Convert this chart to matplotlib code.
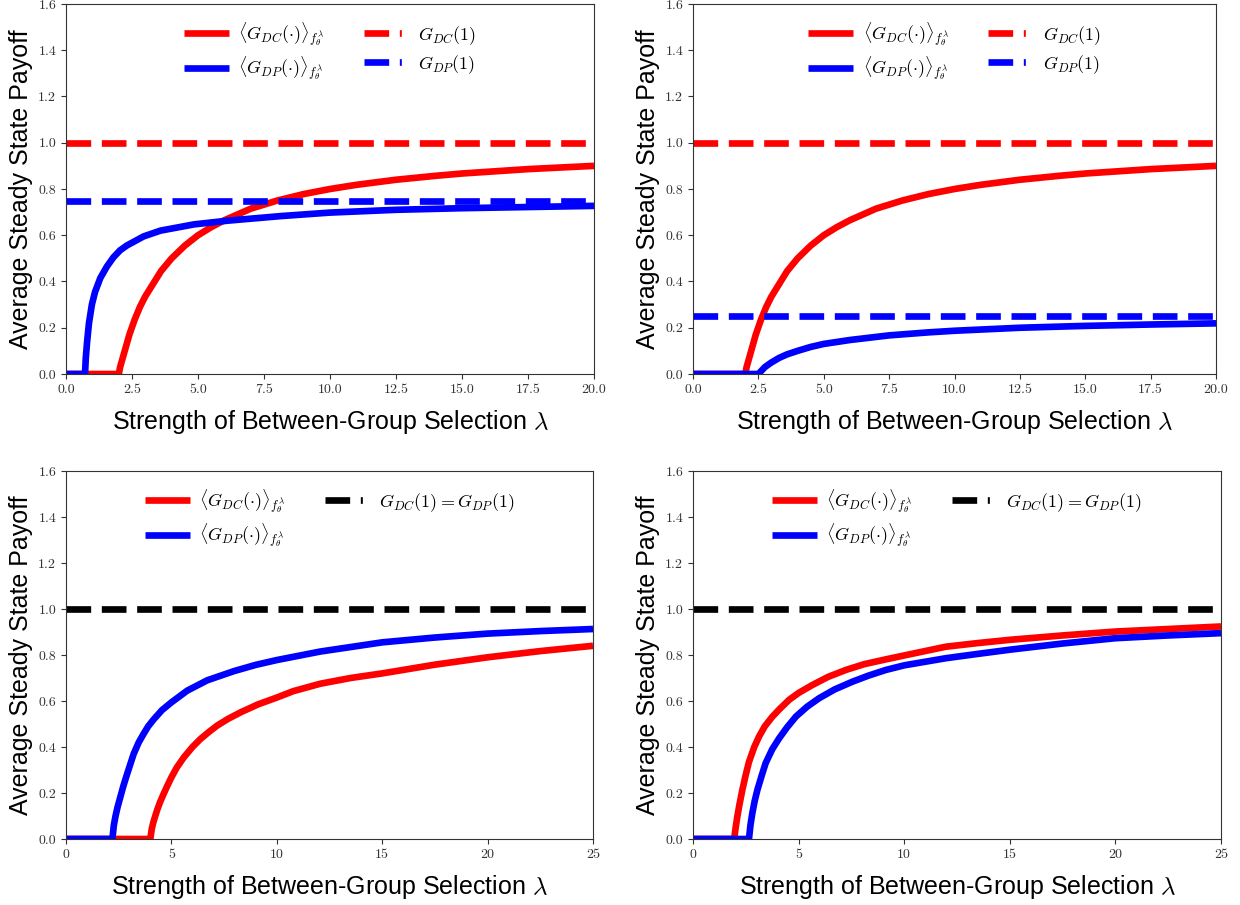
import matplotlib
matplotlib.use('Agg')
import matplotlib.pyplot as plt
from matplotlib.lines import Line2D

plt.rcParams['mathtext.fontset'] = 'cm'
plt.rcParams['font.family'] = ['Liberation Sans', 'DejaVu Sans']

# --- panel (a): top left, lambda in [0, 20] ---
lam_a_dc = [0, 2.0, 2.05, 2.1, 2.2, 2.3, 2.4, 2.6, 2.8, 3.0, 3.3, 3.6, 4.0, 4.5, 5.0, 5.5,
            6.0, 7.0, 8.0, 9.0, 10.0, 11.0, 12.5, 14.0, 15.0, 17.5, 20.0]
g_a_dc = [0, 0, 0.03, 0.05, 0.09, 0.13, 0.17, 0.235, 0.29, 0.335, 0.39, 0.445, 0.50, 0.555,
          0.60, 0.635, 0.665, 0.715, 0.75, 0.778, 0.80, 0.818, 0.84, 0.857, 0.867, 0.886, 0.90]
lam_a_dp = [0, 0.72, 0.75, 0.80, 0.87, 0.98, 1.10, 1.30, 1.55, 1.80, 2.05, 2.31, 2.94, 3.58,
            4.85, 6.12, 8.15, 10.0, 12.5, 15.0, 17.5, 20.0]
g_a_dp = [0, 0, 0.07, 0.14, 0.22, 0.30, 0.355, 0.415, 0.465, 0.505, 0.535, 0.556, 0.595, 0.62,
          0.647, 0.663, 0.683, 0.698, 0.71, 0.717, 0.722, 0.727]
a_dc1 = 1.0
a_dp1 = 0.75

# --- panel (b): top right, lambda in [0, 20] ---
lam_b_dc = lam_a_dc
g_b_dc = g_a_dc
lam_b_dp = [0, 2.5, 2.6, 2.75, 3.0, 3.3, 3.6, 4.0, 4.5, 5.0, 6.0, 7.5, 9.0, 10.0, 12.5, 15.0,
            17.5, 20.0]
g_b_dp = [0, 0, 0.012, 0.03, 0.05, 0.07, 0.085, 0.10, 0.117, 0.13, 0.147, 0.167, 0.18, 0.187,
          0.20, 0.208, 0.214, 0.219]
b_dc1 = 1.0
b_dp1 = 0.25

# --- panel (c): bottom left, lambda in [0, 25] ---
lam_c_dc = [0, 4.0, 4.07, 4.15, 4.32, 4.46, 4.63, 4.8, 5.0, 5.25, 5.59, 6.0, 6.38, 6.8, 7.17,
            7.7, 8.29, 9.1, 10.0, 10.79, 12.06, 13.5, 15.0, 17.5, 20.0, 22.5, 25.0]
g_c_dc = [0, 0, 0.045, 0.075, 0.125, 0.16, 0.196, 0.23, 0.268, 0.31, 0.355, 0.40, 0.435, 0.467,
          0.493, 0.523, 0.551, 0.585, 0.615, 0.643, 0.675, 0.70, 0.72, 0.758, 0.79, 0.817, 0.84]
lam_c_dp = [0, 2.2, 2.27, 2.35, 2.45, 2.57, 2.72, 2.89, 3.05, 3.21, 3.45, 3.68, 3.9, 4.16,
            4.55, 5.0, 5.75, 6.7, 7.97, 9.0, 10.0, 12.06, 15.0, 17.5, 20.0, 22.5, 25.0]
g_c_dp = [0, 0, 0.06, 0.10, 0.14, 0.18, 0.23, 0.28, 0.325, 0.37, 0.42, 0.457, 0.49, 0.52,
          0.56, 0.594, 0.645, 0.69, 0.73, 0.757, 0.778, 0.815, 0.855, 0.876, 0.893, 0.904, 0.913]
c_g1 = 1.0

# --- panel (d): bottom right, lambda in [0, 25] ---
lam_d_dc = [0, 1.95, 2.02, 2.1, 2.2, 2.34, 2.5, 2.65, 2.9, 3.13, 3.4, 3.76, 4.1, 4.55, 5.0,
            5.66, 6.4, 7.24, 8.1, 9.13, 10.0, 11.97, 13.5, 15.0, 17.5, 20.0, 22.5, 25.0]
g_d_dc = [0, 0, 0.05, 0.098, 0.15, 0.215, 0.28, 0.335, 0.40, 0.446, 0.49, 0.532, 0.565, 0.605,
          0.635, 0.67, 0.705, 0.735, 0.76, 0.781, 0.798, 0.836, 0.852, 0.866, 0.885, 0.902,
          0.913, 0.924]
lam_d_dp = [0, 2.65, 2.72, 2.81, 2.92, 3.05, 3.25, 3.44, 3.75, 4.08, 4.45, 4.87, 5.4, 5.97,
            6.7, 7.55, 8.3, 9.13, 10.0, 11.97, 13.5, 15.0, 17.5, 20.0, 22.5, 25.0]
g_d_dp = [0, 0, 0.06, 0.113, 0.165, 0.214, 0.275, 0.33, 0.39, 0.438, 0.485, 0.532, 0.575,
          0.612, 0.65, 0.684, 0.71, 0.735, 0.755, 0.786, 0.805, 0.823, 0.85, 0.873, 0.885, 0.895]
d_g1 = 1.0

xticks_20 = [0, 2.5, 5, 7.5, 10, 12.5, 15, 17.5, 20]
xlabels_20 = ['0.0', '2.5', '5.0', '7.5', '10.0', '12.5', '15.0', '17.5', '20.0']
xticks_25 = [0, 5, 10, 15, 20, 25]
xlabels_25 = ['0', '5', '10', '15', '20', '25']
yticks = [0, 0.2, 0.4, 0.6, 0.8, 1.0, 1.2, 1.4, 1.6]
ylabels = ['0.0', '0.2', '0.4', '0.6', '0.8', '1.0', '1.2', '1.4', '1.6']

lab_dc = r'$\langle G_{DC}(\cdot)\rangle_{f_\theta^\lambda}$'
lab_dp = r'$\langle G_{DP}(\cdot)\rangle_{f_\theta^\lambda}$'
lab_dc1 = r'$G_{DC}(1)$'
lab_dp1 = r'$G_{DP}(1)$'
lab_both = r'$G_{DC}(1) = G_{DP}(1)$'

LW = 4.8
RED = '#ff0000'
BLUE = '#0000ff'
# legend dash: one long dash and a short tick, like the original
DASH_LEG = (0, (3.7, 1.6, 0.3, 20))

fig = plt.figure(figsize=(12.4, 9.05), dpi=100)

W, H = 1240.0, 905.0
boxes = [
    (66, 4, 594, 374),
    (693, 4, 1216, 374),
    (66, 471, 593, 839),
    (693, 471, 1221, 839),
]


def make_ax(box):
    x0, y0, x1, y1 = box
    ax = fig.add_axes([x0 / W, 1 - y1 / H, (x1 - x0) / W, (y1 - y0) / H])
    ax.set_ylim(0, 1.6)
    ax.set_yticks(yticks)
    ax.set_yticklabels(ylabels, fontfamily='cmr10', fontsize=10)
    ax.set_ylabel('Average Steady State Payoff', fontsize=18, labelpad=4)
    ax.set_xlabel(r'Strength of Between-Group Selection $\lambda$', fontsize=18, labelpad=9)
    for s in ax.spines.values():
        s.set_color('#333333')
    ax.tick_params(colors='#333333', length=3.5)
    return ax


def curve(ax, x, y, color):
    ax.plot(x, y, color=color, lw=LW, solid_joinstyle='round', solid_capstyle='butt')


def legend(ax, entries):
    handles = []
    labels = []
    for color, style, lab in entries:
        handles.append(Line2D([], [], color=color, lw=LW, linestyle=style,
                              solid_capstyle='butt', dash_capstyle='butt'))
        labels.append(lab)
    ax.legend(handles, labels, loc='upper center', ncol=2, frameon=False, fontsize=13,
              handlelength=2.5, columnspacing=2.2, handletextpad=0.5, labelspacing=0.35)


# (a)
ax = make_ax(boxes[0])
curve(ax, lam_a_dc, g_a_dc, RED)
curve(ax, lam_a_dp, g_a_dp, BLUE)
ax.axhline(a_dc1, color=RED, lw=LW, ls='--')
ax.axhline(a_dp1, color=BLUE, lw=LW, ls='--')
ax.set_xlim(0, 20)
ax.set_xticks(xticks_20)
ax.set_xticklabels(xlabels_20, fontfamily='cmr10', fontsize=10)
legend(ax, [(RED, '-', lab_dc), (BLUE, '-', lab_dp), (RED, DASH_LEG, lab_dc1), (BLUE, DASH_LEG, lab_dp1)])

# (b)
ax = make_ax(boxes[1])
curve(ax, lam_b_dc, g_b_dc, RED)
curve(ax, lam_b_dp, g_b_dp, BLUE)
ax.axhline(b_dc1, color=RED, lw=LW, ls='--')
ax.axhline(b_dp1, color=BLUE, lw=LW, ls='--')
ax.set_xlim(0, 20)
ax.set_xticks(xticks_20)
ax.set_xticklabels(xlabels_20, fontfamily='cmr10', fontsize=10)
legend(ax, [(RED, '-', lab_dc), (BLUE, '-', lab_dp), (RED, DASH_LEG, lab_dc1), (BLUE, DASH_LEG, lab_dp1)])

# (c)
ax = make_ax(boxes[2])
curve(ax, lam_c_dc, g_c_dc, RED)
curve(ax, lam_c_dp, g_c_dp, BLUE)
ax.axhline(c_g1, color='black', lw=LW, ls='--')
ax.set_xlim(0, 25)
ax.set_xticks(xticks_25)
ax.set_xticklabels(xlabels_25, fontfamily='cmr10', fontsize=10)
legend(ax, [(RED, '-', lab_dc), (BLUE, '-', lab_dp), ('black', DASH_LEG, lab_both)])

# (d)
ax = make_ax(boxes[3])
curve(ax, lam_d_dc, g_d_dc, RED)
curve(ax, lam_d_dp, g_d_dp, BLUE)
ax.axhline(d_g1, color='black', lw=LW, ls='--')
ax.set_xlim(0, 25)
ax.set_xticks(xticks_25)
ax.set_xticklabels(xlabels_25, fontfamily='cmr10', fontsize=10)
legend(ax, [(RED, '-', lab_dc), (BLUE, '-', lab_dp), ('black', DASH_LEG, lab_both)])

fig.savefig('out.png', dpi=100)
